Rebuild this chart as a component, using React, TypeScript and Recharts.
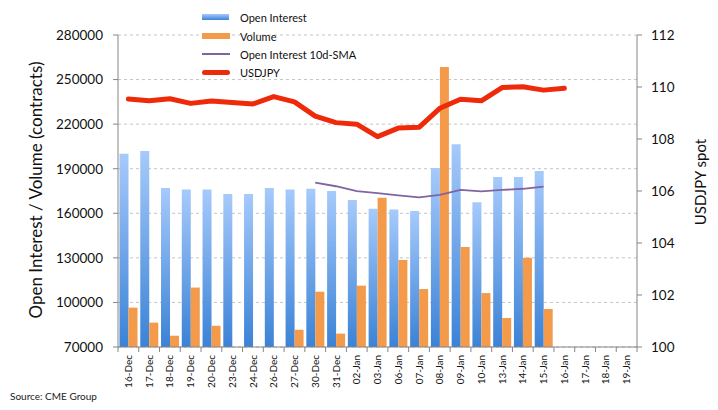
import {
  ComposedChart, Bar, Line, XAxis, YAxis, CartesianGrid,
} from 'recharts'

// ─── Data ─────────────────────────────────────────────────────────────────────

const DATES = [
  '16-Dec', '17-Dec', '18-Dec', '19-Dec', '20-Dec', '23-Dec', '24-Dec', '26-Dec',
  '27-Dec', '30-Dec', '31-Dec', '02-Jan', '03-Jan', '06-Jan', '07-Jan', '08-Jan',
  '09-Jan', '10-Jan', '13-Jan', '14-Jan', '15-Jan', '16-Jan', '17-Jan', '18-Jan', '19-Jan',
]

const OPEN_INTEREST = [
  200000, 202000, 177000, 176000, 176000, 173000, 173000, 177000,
  176000, 176500, 175000, 169000, 163000, 162500, 161500, 190500,
  206500, 167500, 184500, 184500, 188500, null, null, null, null,
]

const VOLUME = [
  96500, 86400, 77600, 110000, 84300, null, null, null,
  81600, 107200, 79000, 111300, 170500, 128600, 109000, 258400,
  137300, 106300, 89500, 130000, 95600, null, null, null, null,
]

const OI_SMA = [
  null, null, null, null, null, null, null, null,
  null, 180600, 178200, 174900, 173500, 172100, 170700, 172400,
  175800, 174800, 175700, 176500, 177900, null, null, null, null,
]

const USDJPY = [
  109.54, 109.47, 109.55, 109.37, 109.46, 109.40, 109.35, 109.63,
  109.43, 108.88, 108.63, 108.57, 108.09, 108.42, 108.45, 109.18,
  109.53, 109.47, 109.98, 110.01, 109.88, 109.95, null, null, null,
]

const LEFT_TICKS = [70000, 100000, 130000, 160000, 190000, 220000, 250000, 280000]
const RIGHT_TICKS = [100, 102, 104, 106, 108, 110, 112]

// ─── Layout ───────────────────────────────────────────────────────────────────

const W = 718
const H = 410
const PLOT_LEFT = 118
const PLOT_RIGHT = 637
const PLOT_TOP = 35
const PLOT_BOTTOM = 347
const BAND = (PLOT_RIGHT - PLOT_LEFT) / DATES.length

const AXIS = '#868686'
const FONT = 'Lato, "Liberation Sans", sans-serif'
const BLUE_TOP = '#a6cafb'
const BLUE_BOTTOM = '#3b82d6'
const ORANGE = '#f39a4b'
const PURPLE = '#8064a2'
const RED = '#ee2a0b'

const data = DATES.map((d, i) => ({
  date: d,
  oi: OPEN_INTEREST[i],
  vol: VOLUME[i],
  sma: OI_SMA[i],
  fx: USDJPY[i],
}))

// ─── Ticks ────────────────────────────────────────────────────────────────────

function DateTick(props: any) {
  const { x, payload, index } = props
  const left = x - BAND / 2
  return (
    <g>
      <line x1={left} x2={left} y1={PLOT_BOTTOM} y2={PLOT_BOTTOM + 5} stroke={AXIS} />
      {index === DATES.length - 1 && (
        <line x1={x + BAND / 2} x2={x + BAND / 2} y1={PLOT_BOTTOM} y2={PLOT_BOTTOM + 5} stroke={AXIS} />
      )}
      <text
        x={x}
        y={PLOT_BOTTOM + 8}
        transform={`rotate(-90 ${x} ${PLOT_BOTTOM + 8})`}
        textAnchor="end"
        dy="0.36em"
        fontSize={10}
        fontFamily={FONT}
        fill="#111"
      >
        {payload.value}
      </text>
    </g>
  )
}

// ─── Legend ───────────────────────────────────────────────────────────────────

function LegendRow({ top, swatch, label }: { top: number; swatch: React.ReactNode; label: string }) {
  return (
    <div style={{ position: 'absolute', left: 202, top, height: 18, display: 'flex', alignItems: 'center' }}>
      <div style={{ width: 28, display: 'flex', alignItems: 'center' }}>{swatch}</div>
      <span style={{ marginLeft: 10, fontSize: 11, color: '#111', fontFamily: FONT }}>{label}</span>
    </div>
  )
}

// ─── Component ────────────────────────────────────────────────────────────────

export default function App() {
  return (
    <div style={{ position: 'absolute', left: 0, top: 0, width: W, height: H, background: '#fff', fontFamily: FONT }}>
      <ComposedChart
        width={W}
        height={H}
        data={data}
        margin={{ top: PLOT_TOP, right: 0, bottom: 0, left: 0 }}
        barCategoryGap={1.5}
        barGap={0}
      >
        <defs>
          <linearGradient id="oiGrad" x1="0" y1="0" x2="0" y2="1">
            <stop offset="0%" stopColor={BLUE_TOP} />
            <stop offset="100%" stopColor={BLUE_BOTTOM} />
          </linearGradient>
        </defs>
        <CartesianGrid yAxisId="left" vertical={false} stroke="#c4c4c4" strokeDasharray="3 3" />
        <XAxis
          dataKey="date"
          height={H - PLOT_BOTTOM}
          interval={0}
          tickLine={false}
          axisLine={{ stroke: AXIS }}
          tick={<DateTick />}
        />
        <YAxis
          yAxisId="left"
          width={PLOT_LEFT}
          domain={[70000, 280000]}
          ticks={LEFT_TICKS}
          allowDataOverflow
          axisLine={{ stroke: AXIS }}
          tickLine={{ stroke: AXIS }}
          tickSize={5}
          tickMargin={10}
          tick={{ fontSize: 13.5, fill: '#111', fontFamily: FONT }}
        />
        <YAxis
          yAxisId="right"
          orientation="right"
          width={W - PLOT_RIGHT}
          domain={[100, 112]}
          ticks={RIGHT_TICKS}
          allowDataOverflow
          axisLine={{ stroke: AXIS }}
          tickLine={{ stroke: AXIS }}
          tickSize={5}
          tickMargin={9}
          tick={{ fontSize: 13.5, fill: '#111', fontFamily: FONT, textAnchor: 'start' }}
        />
        <Bar yAxisId="left" dataKey="oi" fill="url(#oiGrad)" isAnimationActive={false} />
        <Bar yAxisId="left" dataKey="vol" fill={ORANGE} isAnimationActive={false} />
        <Line
          yAxisId="left"
          dataKey="sma"
          type="linear"
          stroke={PURPLE}
          strokeWidth={1.8}
          dot={false}
          activeDot={false}
          isAnimationActive={false}
        />
        <Line
          yAxisId="right"
          dataKey="fx"
          type="linear"
          stroke={RED}
          strokeWidth={5}
          strokeLinecap="round"
          strokeLinejoin="round"
          dot={false}
          activeDot={false}
          isAnimationActive={false}
        />
      </ComposedChart>

      {/* Legend */}
      <LegendRow
        top={8}
        label="Open Interest"
        swatch={<div style={{ width: 27, height: 6, background: `linear-gradient(${BLUE_TOP}, ${BLUE_BOTTOM})` }} />}
      />
      <LegendRow
        top={27}
        label="Volume"
        swatch={<div style={{ width: 28, height: 6, background: ORANGE }} />}
      />
      <LegendRow
        top={45}
        label="Open Interest 10d-SMA"
        swatch={<div style={{ width: 28, height: 2, background: PURPLE }} />}
      />
      <LegendRow
        top={63}
        label="USDJPY"
        swatch={<div style={{ width: 28, height: 5, borderRadius: 3, background: RED }} />}
      />

      {/* Axis titles */}
      <div
        style={{
          position: 'absolute', left: 35, top: 190, transform: 'translate(-50%, -50%) rotate(-90deg)',
          whiteSpace: 'nowrap', fontSize: 17, color: '#111', fontFamily: FONT,
        }}
      >
        Open Interest / Volume (contracts)
      </div>
      <div
        style={{
          position: 'absolute', left: 700, top: 182, transform: 'translate(-50%, -50%) rotate(-90deg)',
          whiteSpace: 'nowrap', fontSize: 15, color: '#111', fontFamily: FONT,
        }}
      >
        USDJPY spot
      </div>

      <div style={{ position: 'absolute', left: 10, top: 390, fontSize: 10, color: '#222', fontFamily: FONT }}>
        Source: CME Group
      </div>
    </div>
  )
}
